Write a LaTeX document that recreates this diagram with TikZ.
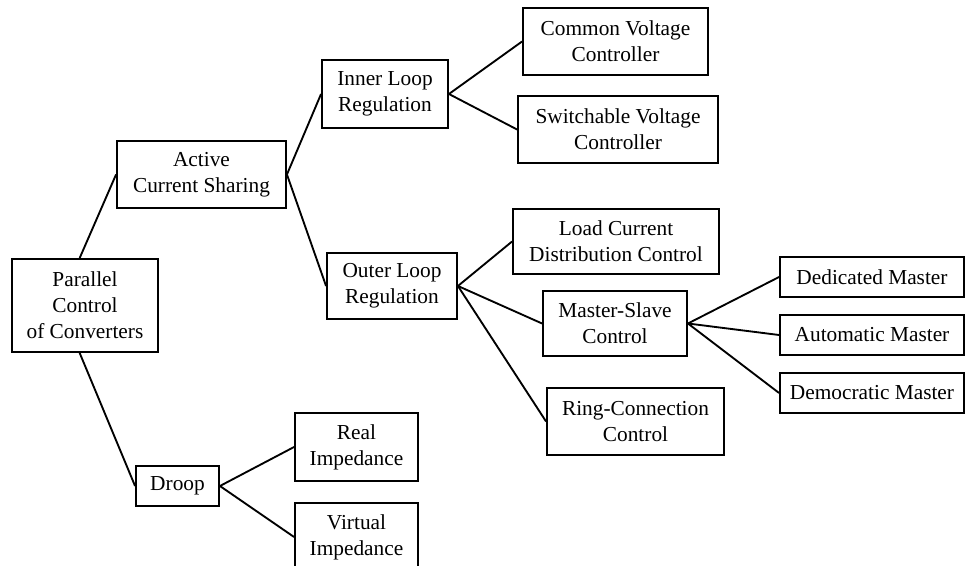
\documentclass[tikz,border=0pt]{standalone}
\usepackage{fontspec}
\setmainfont{Liberation Serif}
\usepackage{tikz}
\usetikzlibrary{positioning}
\tikzset{
    box/.style={rectangle, draw, line width=1.4pt, text centered, align=center, minimum height=50pt, inner sep=2pt, font=\fontsize{16pt}{19.5pt}\selectfont},
    tag/.style={box, minimum height=30pt},
    link/.style={line width=1.4pt}
}

\begin{document}
\begin{tikzpicture}[x=0.75pt, y=-0.75pt, node distance=43.5pt]
    \useasboundingbox (0,0) rectangle (965,566);

    % Root and first level
    \node[box, minimum width=109.5pt, minimum height=69.75pt] (root) at (85,305.5) {Parallel\\Control\\of Converters};
    \node[box, minimum width=126.75pt] (active) at (201.5,174.5) {Active\\Current Sharing};
    \node[tag, minimum width=62.25pt] (droop) at (177.5,486) {Droop};

    % Active current sharing branch
    \node[box, minimum width=94.5pt, minimum height=51pt] (inner) at (385,94) {Inner Loop\\Regulation};
    \node[box, minimum width=97.5pt, minimum height=49.5pt] (outer) at (392,286) {Outer Loop\\Regulation};
    \node[box, minimum width=138.75pt] (common) at (615.5,41.5) {Common Voltage\\Controller};
    \node[box, minimum width=150pt] (switchable) at (618,129.5) {Switchable Voltage\\Controller};
    \node[box, minimum width=154.5pt, minimum height=48.75pt] (load) at (616,241.5) {Load Current\\Distribution Control};
    \node[box, minimum width=108pt, minimum height=48.75pt] (masterslave) at (615,323.5) {Master-Slave\\Control};
    \node[box, minimum width=132.75pt] (ring) at (635.5,421.5) {Ring-Connection\\Control};

    % Master-slave variants
    \node[tag, minimum width=138pt] (dedicated) at (872,277) {Dedicated Master};
    \node[tag, minimum width=138pt, below of=dedicated] (automatic) {Automatic Master};
    \node[tag, minimum width=138pt, below of=automatic] (democratic) {Democratic Master};

    % Droop branch
    \node[box, minimum width=92.25pt, minimum height=51pt] (real) at (356.5,447) {Real\\Impedance};
    \node[box, minimum width=92.25pt, minimum height=51pt, below of=real, node distance=67.5pt] (virtual) {Virtual\\Impedance};

    % Connections
    \draw[link] ([xshift=-4pt]root.north) -- (active.west);
    \draw[link] ([xshift=-4pt]root.south) -- (droop.west);
    \draw[link] (active.east) -- (inner.west);
    \draw[link] (active.east) -- (outer.west);
    \draw[link] (inner.east) -- (common.west);
    \draw[link] (inner.east) -- (switchable.west);
    \draw[link] (outer.east) -- (load.west);
    \draw[link] (outer.east) -- (masterslave.west);
    \draw[link] (outer.east) -- (ring.west);
    \draw[link] (masterslave.east) -- (dedicated.west);
    \draw[link] (masterslave.east) -- (automatic.west);
    \draw[link] (masterslave.east) -- (democratic.west);
    \draw[link] (droop.east) -- (real.west);
    \draw[link] (droop.east) -- (virtual.west);
\end{tikzpicture}
\end{document}
